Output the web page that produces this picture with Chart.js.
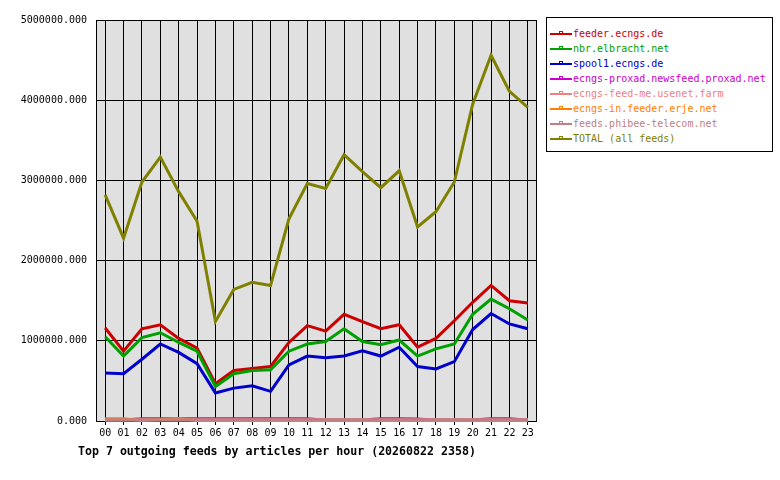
<!DOCTYPE html>
<html>
<head>
<meta charset="utf-8">
<script src="https://cdn.jsdelivr.net/npm/chart.js@4/dist/chart.umd.min.js"></script>
<style>
  body { margin: 0; background: #fff; }
  #wrap { position: relative; width: 780px; height: 480px; }
  #legend {
    position: absolute; left: 546px; top: 17px; width: 225px; height: 125px;
    border: 1px solid #000; background: #fff; padding-top: 8px; box-sizing: content-box;
    font: 10px 'DejaVu Sans Mono', monospace;
  }
  .row { height: 15px; line-height: 15px; display: flex; align-items: center; white-space: nowrap; }
  .sym { position: relative; width: 22px; height: 15px; margin-left: 3px; margin-right: 1px; }
  .sym .ln { position: absolute; left: 0; right: 0; top: 7px; height: 2px; }
  .sym .mk { position: absolute; left: 9px; top: 5px; width: 2px; height: 2px; border: 1px solid; background: transparent; }
  #title {
    position: absolute; left: 78px; top: 444px;
    font: bold 11.6px 'DejaVu Sans Mono', monospace; color: #000; white-space: nowrap;
  }
</style>
</head>
<body>
<div id="wrap">
  <canvas id="chart" width="780" height="480"></canvas>
  <div id="legend"></div>
  <div id="title">Top 7 outgoing feeds by articles per hour (20260822 2358)</div>
</div>
<script>
// data (articles per hour)
const hours = ['00','01','02','03','04','05','06','07','08','09','10','11',
               '12','13','14','15','16','17','18','19','20','21','22','23'];
const yTicks = [0, 1000000, 2000000, 3000000, 4000000, 5000000];

const feederEcngs = [1160000, 870000, 1150000, 1200000, 1030000, 910000, 465000, 630000, 655000, 680000, 980000, 1190000,
                     1120000, 1330000, 1240000, 1150000, 1200000, 920000, 1030000, 1250000, 1480000, 1690000, 1500000, 1470000];
const nbrElbracht = [1050000, 810000, 1040000, 1100000, 980000, 870000, 430000, 590000, 630000, 640000, 870000, 960000,
                     990000, 1150000, 990000, 950000, 1010000, 810000, 900000, 960000, 1330000, 1520000, 1400000, 1260000];
const spool1Ecngs = [600000, 590000, 770000, 960000, 855000, 715000, 350000, 410000, 440000, 370000, 700000, 810000,
                     790000, 810000, 875000, 810000, 920000, 680000, 650000, 740000, 1140000, 1340000, 1210000, 1150000];
const proxad = [10000, 14000, 28000, 28000, 28000, 28000, 28000, 28000, 28000, 28000, 28000, 28000,
                10000, 10000, 14000, 28000, 28000, 25000, 10000, 10000, 14000, 28000, 28000, 10000];
const feedMe = [12000, 12000, 12000, 12000, 12000, 12000, 12000, 12000, 12000, 12000, 12000, 12000,
                12000, 12000, 12000, 12000, 12000, 12000, 12000, 12000, 12000, 12000, 12000, 12000];
const erje = [28000, 28000, 5000, 20000, 30000, 5000, 5000, 5000, 5000, 5000, 5000, 5000,
              5000, 5000, 5000, 5000, 5000, 5000, 5000, 5000, 5000, 5000, 5000, 5000];
const phibee = [15000, 15000, 15000, 15000, 15000, 15000, 15000, 15000, 15000, 15000, 15000, 15000,
                15000, 15000, 15000, 15000, 15000, 15000, 15000, 15000, 15000, 15000, 15000, 15000];
const total = [2820000, 2280000, 2980000, 3290000, 2860000, 2490000, 1240000, 1640000, 1730000, 1690000, 2520000, 2960000,
               2900000, 3320000, 3110000, 2910000, 3120000, 2420000, 2610000, 2980000, 3950000, 4560000, 4110000, 3910000];

const seriesNames = ['feeder.ecngs.de', 'nbr.elbracht.net', 'spool1.ecngs.de', 'ecngs-proxad.newsfeed.proxad.net',
                     'ecngs-feed-me.usenet.farm', 'ecngs-in.feeder.erje.net', 'feeds.phibee-telecom.net', 'TOTAL (all feeds)'];
const seriesColors = ['#cc0000', '#00a000', '#0000cc', '#cc00cc', '#f08080', '#ff8000', '#c08080', '#808000'];
const seriesData = [feederEcngs, nbrElbracht, spool1Ecngs, proxad, feedMe, erje, phibee, total];

const FONT = { family: "'DejaVu Sans Mono', monospace", size: 10 };

// plot background + frame, like rrdtool
const plotFrame = {
  id: 'plotFrame',
  beforeDraw(chart) {
    const { ctx, chartArea: a } = chart;
    ctx.save();
    ctx.fillStyle = '#e0e0e0';
    ctx.fillRect(a.left, a.top, a.right - a.left, a.bottom - a.top);
    ctx.restore();
  },
  beforeDatasetsDraw(chart) {
    const { ctx, chartArea: a } = chart;
    ctx.save();
    ctx.strokeStyle = '#000';
    ctx.lineWidth = 1;
    ctx.strokeRect(Math.round(a.left) + 0.5, Math.round(a.top) + 0.5,
                   Math.round(a.right - a.left) - 1, Math.round(a.bottom - a.top));
    ctx.restore();
  },
};

new Chart(document.getElementById('chart'), {
  type: 'line',
  data: {
    labels: hours,
    datasets: seriesData.map((d, i) => ({
      label: seriesNames[i],
      data: d,
      borderColor: seriesColors[i],
      backgroundColor: seriesColors[i],
      borderWidth: 3,
      pointRadius: 0,
      tension: 0,
      clip: false,
      order: seriesData.length - i, // later series on top
    })),
  },
  options: {
    responsive: false,
    animation: false,
    devicePixelRatio: 1,
    layout: { padding: { left: 0, right: 243, top: 20, bottom: 0 } },
    plugins: { legend: { display: false }, tooltip: { enabled: false }, title: { display: false } },
    scales: {
      x: {
        offset: true,
        grid: { color: '#000', lineWidth: 1, offset: false, tickLength: 4, drawOnChartArea: true },
        border: { display: false },
        ticks: { color: '#000', font: FONT, padding: 2, maxRotation: 0, autoSkip: false },
        afterFit: (s) => { s.height = 59; },
      },
      y: {
        min: 0,
        max: 5000000,
        afterBuildTicks: (s) => { s.ticks = yTicks.map((v) => ({ value: v })); },
        grid: { color: '#000', lineWidth: 1, drawTicks: false },
        border: { color: '#000' },
        ticks: { color: '#000', font: FONT, padding: 9, callback: (v) => v.toFixed(3) },
        afterFit: (s) => { s.width = 96; },
      },
    },
  },
  plugins: [plotFrame],
});

// legend box on the right
const legend = document.getElementById('legend');
seriesNames.forEach((name, i) => {
  const row = document.createElement('div');
  row.className = 'row';
  row.style.color = seriesColors[i];
  row.innerHTML = `<span class="sym"><span class="ln" style="background:${seriesColors[i]}"></span>` +
    `<span class="mk" style="border-color:${seriesColors[i]}"></span></span><span>${name}</span>`;
  legend.appendChild(row);
});
</script>
</body>
</html>
